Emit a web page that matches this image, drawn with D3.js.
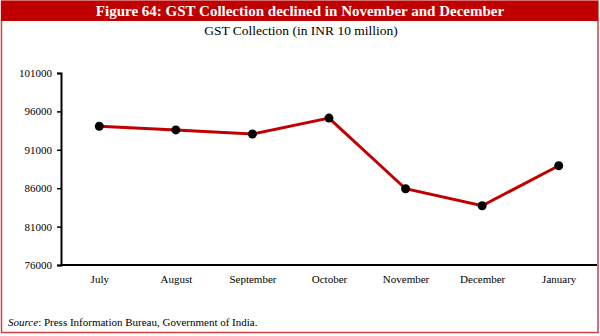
<!DOCTYPE html>
<html>
<head>
<meta charset="utf-8">
<script src="https://cdn.jsdelivr.net/npm/d3@7"></script>
<style>
  body { margin: 0; background: #fff; }
</style>
</head>
<body>
<div id="chart"></div>
<script>
const chart = { width: 600, height: 336 };

const months = ["July", "August", "September", "October", "November", "December", "January"];
const gstValues = [94063, 93590, 93050, 95131, 85931, 83716, 88929];
const yTicks = [76000, 81000, 86000, 91000, 96000, 101000];

const red = "#c00000";
const serif = "'Liberation Serif', 'DejaVu Serif', serif";

const svg = d3.select("#chart").append("svg")
    .attr("width", chart.width).attr("height", chart.height);

// frame + header bar
svg.append("rect")
    .attr("x", 1.5).attr("y", 1).attr("width", 596.5).attr("height", 331.5)
    .attr("fill", "none").attr("stroke", "#d04040").attr("stroke-width", 1.5);
svg.append("rect")
    .attr("x", 1).attr("y", 1).attr("width", 597).attr("height", 20)
    .attr("fill", red);

svg.append("text")
    .attr("x", 300).attr("y", 16)
    .attr("text-anchor", "middle")
    .style("font-family", serif).style("font-weight", "bold").style("font-size", "15px")
    .attr("fill", "#fff")
    .text("Figure 64: GST Collection declined in November and December");

svg.append("text")
    .attr("x", 301).attr("y", 35)
    .attr("text-anchor", "middle")
    .style("font-family", serif).style("font-size", "13.5px")
    .attr("fill", "#000")
    .text("GST Collection (in INR 10 million)");

const plot = { left: 61, right: 597, top: 73, bottom: 265 };

const x = d3.scalePoint()
    .domain(months)
    .range([plot.left, plot.right])
    .padding(0.5);

const y = d3.scaleLinear()
    .domain([76000, 101000])
    .range([plot.bottom, plot.top]);

// y axis
const yAxis = svg.append("g")
    .attr("transform", "translate(" + plot.left + ",0)")
    .call(d3.axisLeft(y).tickValues(yTicks).tickSize(4).tickPadding(5).tickFormat(d3.format("d")));
yAxis.attr("font-family", null);
yAxis.select(".domain").attr("stroke", "#000").attr("stroke-width", 2);
yAxis.selectAll(".tick line").attr("stroke", "#000").attr("stroke-width", 1.5);
yAxis.selectAll("text")
    .style("font-family", serif).style("font-size", "11px").attr("fill", "#000");

// x axis
const xAxis = svg.append("g")
    .attr("transform", "translate(0," + plot.bottom + ")")
    .call(d3.axisBottom(x).tickSize(0).tickPadding(10));
xAxis.attr("font-family", null);
xAxis.select(".domain")
    .attr("d", "M" + plot.left + ",0H" + plot.right)
    .attr("stroke", "#000").attr("stroke-width", 2);
xAxis.selectAll("text")
    .style("font-family", serif).style("font-size", "11px").attr("fill", "#000");

// line
const line = d3.line()
    .x((d, i) => x(months[i]))
    .y(d => y(d));

svg.append("path")
    .datum(gstValues)
    .attr("d", line)
    .attr("fill", "none")
    .attr("stroke", red)
    .attr("stroke-width", 3);

svg.selectAll(".dot").data(gstValues)
    .enter().append("circle").attr("class", "dot")
    .attr("cx", (d, i) => x(months[i]))
    .attr("cy", d => y(d))
    .attr("r", 4.5)
    .attr("fill", "#000");

// source note
const src = svg.append("text")
    .attr("x", 8).attr("y", 326)
    .style("font-family", serif).style("font-size", "11px")
    .attr("fill", "#000");
src.append("tspan").style("font-style", "italic").text("Source");
src.append("tspan").text(": Press Information Bureau, Government of India.");
</script>
</body>
</html>
